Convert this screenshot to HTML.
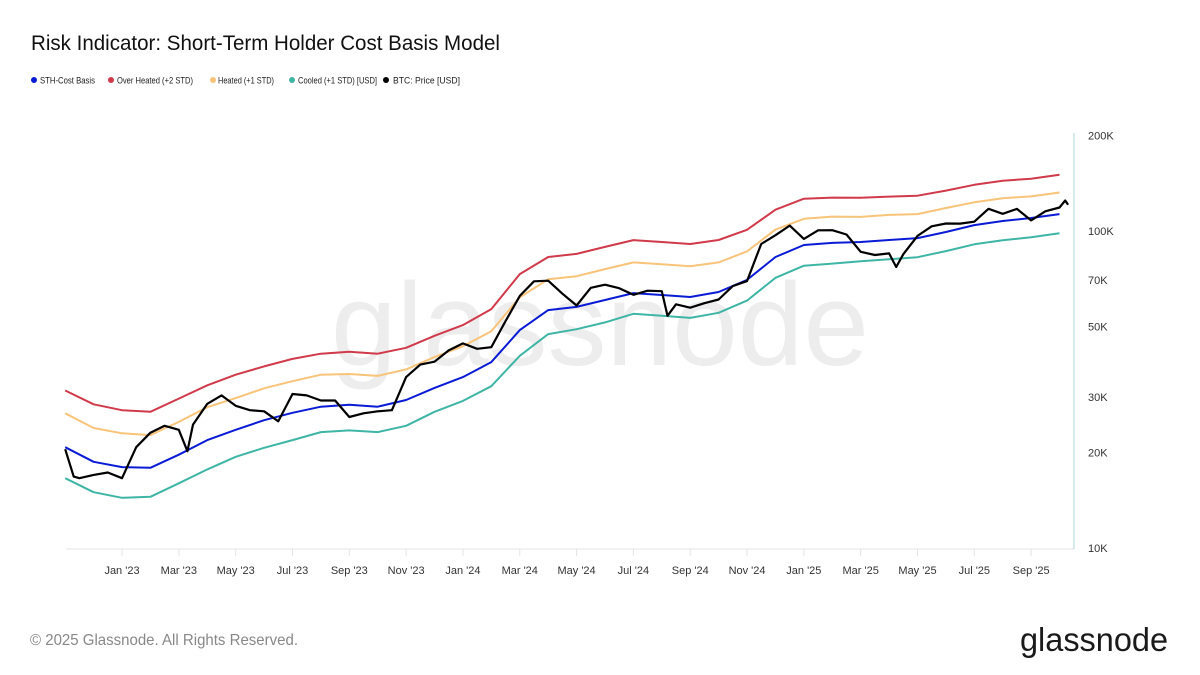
<!DOCTYPE html>
<html><head><meta charset="utf-8"><style>
body{margin:0;background:#fff;width:1200px;height:675px;overflow:hidden;font-family:"Liberation Sans",sans-serif}
svg{position:absolute;left:0;top:0}
</style></head><body>
<svg id="chart" width="1200" height="675" xmlns="http://www.w3.org/2000/svg">
<text x="31" y="50" font-size="21" textLength="469" lengthAdjust="spacingAndGlyphs" fill="#111" font-family="Liberation Sans, sans-serif">Risk Indicator: Short-Term Holder Cost Basis Model</text>
<g font-size="9" fill="#222" font-family="Liberation Sans, sans-serif">
<g><circle cx="34" cy="80" r="3" fill="#0a1bd6"/><text x="40" y="83.5" textLength="55" lengthAdjust="spacingAndGlyphs">STH-Cost Basis</text></g>
<g><circle cx="111" cy="80" r="3" fill="#d03a4a"/><text x="117" y="83.5" textLength="76" lengthAdjust="spacingAndGlyphs">Over Heated (+2 STD)</text></g>
<g><circle cx="213" cy="80" r="3" fill="#f7c47a"/><text x="218" y="83.5" textLength="56" lengthAdjust="spacingAndGlyphs">Heated (+1 STD)</text></g>
<g><circle cx="292" cy="80" r="3" fill="#3fb5a5"/><text x="298" y="83.5" textLength="79" lengthAdjust="spacingAndGlyphs">Cooled (+1 STD) [USD]</text></g>
<g><circle cx="386" cy="80" r="3" fill="#000"/><text x="393" y="83.5" textLength="67" lengthAdjust="spacingAndGlyphs">BTC: Price [USD]</text></g>
</g>
<text x="600" y="365" text-anchor="middle" font-size="118" fill="#ededed" font-family="Liberation Sans, sans-serif">glassnode</text>
<g id="axes"></g>
<g id="series"></g>
<text x="30" y="645" font-size="16" textLength="268" lengthAdjust="spacingAndGlyphs" fill="#888" font-family="Liberation Sans, sans-serif">© 2025 Glassnode. All Rights Reserved.</text>
<text x="1168" y="651" text-anchor="end" font-size="33" textLength="148" lengthAdjust="spacingAndGlyphs" fill="#1a1a1a" font-family="Liberation Sans, sans-serif">glassnode</text>
</svg>
<script>
// month index: 0 = Nov 2022
const monthT = [0,1,2,3,4,5,6,7,8,9,10,11,12,13,14,15,16,17,18,19,20,21,22,23,24,25,26,27,28,29,30,31,32,33,34,35];
const sthCost = [20.8,18.7,18.0,17.9,19.7,21.9,23.6,25.3,26.7,27.9,28.3,27.9,29.3,32.0,34.6,38.6,48.7,56.3,57.6,60.6,63.7,62.8,61.9,64.2,70.1,82.8,90.3,91.7,92.3,93.7,95.0,99.3,104.4,107.5,109.9,113.1];
const overHeated = [31.4,28.4,27.2,26.9,29.6,32.6,35.2,37.4,39.5,41.0,41.6,41.0,42.8,46.7,50.5,56.7,73.1,82.8,84.7,89.1,93.6,92.3,91.0,93.7,100.9,116.7,126.4,127.5,127.4,128.4,129.2,134.1,139.9,144.1,146.2,150.4];
const heated = [26.6,23.9,23.0,22.7,25.0,27.8,29.7,31.9,33.6,35.2,35.4,34.9,36.6,40.0,43.3,48.3,61.8,70.4,72.0,75.8,79.6,78.5,77.4,79.6,86.2,101.0,109.3,111.0,110.8,112.4,113.1,118.2,123.2,126.9,128.6,132.3];
const cooled = [16.6,15.0,14.4,14.5,16.0,17.7,19.4,20.7,21.9,23.2,23.5,23.2,24.3,26.9,29.1,32.4,40.4,47.3,49.0,51.5,54.8,54.0,53.2,55.2,60.3,71.2,77.7,78.9,80.3,81.5,82.7,86.4,90.8,93.5,95.6,98.4];
const priceT = [0,0.3,0.5,1,1.5,2,2.5,3,3.5,4,4.3,4.5,5,5.5,6,6.5,7,7.5,8,8.5,9,9.5,10,10.5,11,11.5,12,12.5,13,13.5,14,14.5,15,15.5,16,16.5,17,17.5,18,18.5,19,19.5,20,20.5,21,21.2,21.5,22,22.5,23,23.5,24,24.5,25,25.5,26,26.5,27,27.5,28,28.5,29,29.25,29.5,30,30.5,31,31.5,32,32.5,33,33.5,34,34.5,35,35.2,35.3];
const priceV = [20.5,16.8,16.6,17.0,17.3,16.6,20.8,23.1,24.3,23.6,20.2,24.5,28.5,30.3,28.1,27.2,27.0,25.1,30.6,30.3,29.2,29.2,25.9,26.6,27.0,27.2,34.6,37.9,38.7,42.0,44.2,42.5,43.0,52.0,62.4,69.4,69.7,63.4,58.2,66.2,67.7,66.0,62.9,64.8,64.6,54.0,58.7,57.3,59.2,60.8,67.0,69.5,91.0,97.0,104.0,94.4,100.5,100.6,97.5,86.0,84.0,85.0,77.0,84.5,96.5,103.5,105.6,105.5,107.0,117.5,113.3,117.4,108.0,115.4,118.6,124.8,121.0];
const yTicks = [10,20,30,50,70,100,200];
const yTickLabels = ['10K','20K','30K','50K','70K','100K','200K'];
const xTickT = [2,4,6,8,10,12,14,16,18,20,22,24,26,28,30,32,34];
const xTickLabels = ["Jan '23","Mar '23","May '23","Jul '23","Sep '23","Nov '23","Jan '24","Mar '24","May '24","Jul '24","Sep '24","Nov '24","Jan '25","Mar '25","May '25","Jul '25","Sep '25"];

const NS='http://www.w3.org/2000/svg';
const x = t => 65.2 + t*28.41;
const y = v => 548 - 317*Math.log10(v/10);
const axes=document.getElementById('axes'), series=document.getElementById('series');
function mk(tag,parent){const e=document.createElementNS(NS,tag);parent.appendChild(e);return e;}

let base=mk('line',axes);


base.setAttribute('x1',66);base.setAttribute('x2',1074);base.setAttribute('y1',549);base.setAttribute('y2',549);base.setAttribute('stroke','#e4e4e4');
let ra=mk('line',axes);


ra.setAttribute('x1',1074);ra.setAttribute('x2',1074);ra.setAttribute('y1',133);ra.setAttribute('y2',549);ra.setAttribute('stroke','#a9d8d6');
xTickT.forEach((t,i)=>{
  let tk=mk('line',axes);
  
  
  tk.setAttribute('x1',x(t));tk.setAttribute('x2',x(t));tk.setAttribute('y1',549);tk.setAttribute('y2',556);tk.setAttribute('stroke','#e4e4e4');
  let tx=mk('text',axes);
  
  
  tx.setAttribute('x',x(t));tx.setAttribute('y',574);tx.setAttribute('text-anchor','middle');tx.setAttribute('font-size','11');tx.setAttribute('fill','#333');
  tx.textContent=xTickLabels[i];
});
yTicks.forEach((v,i)=>{
  let tx=mk('text',axes);
  
  
  tx.setAttribute('x',1088);tx.setAttribute('y',y(v)+4);tx.setAttribute('font-size','11');tx.setAttribute('fill','#333');
  tx.textContent=yTickLabels[i];
});
function line(ts,vs,color,w,name){
  let p=mk('path',series);
  
  
  p.setAttribute('d',ts.map((t,i)=>(i?'L':'M')+x(t).toFixed(1)+','+y(vs[i]).toFixed(1)).join(''));
  p.setAttribute('fill','none');p.setAttribute('stroke',color);p.setAttribute('stroke-width',w);p.setAttribute('stroke-linejoin','round');
}
line(monthT,overHeated,'#d03a4a',2,'over-heated-line');
line(monthT,heated,'#f7c47a',2,'heated-line');
line(monthT,cooled,'#3fb5a5',2,'cooled-line');
line(monthT,sthCost,'#0a1bd6',2,'sth-cost-basis-line');
line(priceT,priceV,'#000',2.2,'btc-price-line');
</script>
</body></html>
